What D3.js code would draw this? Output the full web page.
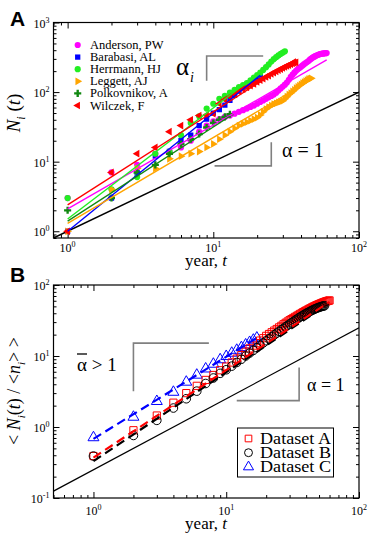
<!DOCTYPE html>
<html>
<head>
<meta charset="utf-8">
<script src="https://cdn.jsdelivr.net/npm/d3@7"></script>
<style>
body { margin: 0; background: #fff; }
svg { display: block; }
svg text { font-family: "Liberation Serif", "DejaVu Serif", serif; fill: #000; }
svg text.panel-letter { font-family: "Liberation Sans", Arial, sans-serif; font-weight: bold; font-size: 21px; }
</style>
</head>
<body>
<svg width="374" height="539" font-family="Liberation Serif, serif"></svg>
<script>
// ---- panel A: N_i(t) per author, value index = year-1 ----
const authors = ["Anderson, PW", "Barabasi, AL", "Herrmann, HJ", "Leggett, AJ", "Polkovnikov, A", "Wilczek, F"];
const anderson = [3,7,9,13,14,16,20,27,33,38,41,44,46,49,52,55,58,61,64,68,72,76,80,84,88,92,98,105,113,120,
  128,137,150,165,178,190,202,213,222,232,242,252,262,270,280,292,302,312,320,328,335,341,347,352,355,357,359,360,362,363];
const barabasi = [1,3,7,12,14,20,24,33,41,50,56,65,76,90,105,115,125,137,149,160,175];
const herrmann = [3,4,6,13,14,24,36,45,58,68,80,88,98,108,118,126,135,148,162,176,190,208,228,250,275,298,318,338,355,370,385];
const leggett = [1,4,8,8,11,12,13,14,16,18,21,24,27,30,33,35,37,39,41,43,47,52,57,61,64,67,69,71,73,75,
  80,86,92,97,102,108,114,119,124,129,134,139,144,149,153,156,158];
const polkovnikov = [2,3,7,9,13,18,21,25,31,36,40,44,48];
const wilczek = [1,7,13,16,27,33,40,46,47,49,68,78,86,94,102,110,117,124,131,140,148,156,165,173,182,190,198,206,214,222,
  230,238,245,252,258,263,268];
const seriesA = [anderson, barabasi, herrmann, leggett, polkovnikov, wilczek];
// power-law fits: value at t=1, last year, value at last year
const fitStartA = [2.1, 1.0, 1.5, 1.3, 1.4, 2.4];
const fitEndYearA = [60, 21, 31, 47, 13, 37];
const fitEndA = [290, 175, 360, 150, 45, 300];
const refLineA = [[0.8, 0.8], [100, 100]];
const guideAi = [[9, 145], [9, 330], [22, 330]];
const guideA1 = [[10.2, 8.7], [25, 8.7], [25, 19]];

// ---- panel B: <N_i(t)/<n_i>> ----
const datasets = ["Dataset A", "Dataset B", "Dataset C"];
const dsA = [0.39,0.9,1.45,2.2,3.0,3.8,4.6,5.4,6.3,7.1,8.1,9.2,10.3,11.5,12.8,14.0,15.2,16.5,17.8,19.2,
  20.4,21.6,22.8,24.0,25.3,26.6,28.0,29.3,30.6,31.9,33.1,34.3,35.5,36.7,37.9,39.1,40.3,41.5,42.6,43.7,
  44.8,45.9,47.0,48.1,49.1,50.1,51.1,52.0,52.9,53.8,54.6,55.4,56.2,57.0,57.7,58.4,59.0,59.6,60.1,60.6];
const dsB = [0.39,0.76,1.24,1.85,2.5,3.2,4.1,4.9,5.7,6.4,7.2,8.1,9.0,10.0,11.0,12.0,13.1,14.2,15.3,16.4,
  17.5,18.6,19.8,21.0,22.2,23.4,24.6,25.8,27.0,28.2,29.4,30.6,31.8,33.0,34.2,35.4,36.5,37.6,38.7,39.8,
  40.8,41.8,42.8,43.7,44.6,45.5,46.3,47.1,47.8,48.5,49.1,49.7,50.2,50.6,51.0];
const dsC = [0.71,1.38,2.3,3.1,4.3,5.4,6.6,7.7,8.9,9.9,11.0,12.1,13.2,14.4,15.6,16.8,18.0];
const seriesB = [dsA, dsB, dsC];
const fitStartB = [0.37, 0.33, 0.68];
const fitEndYearB = [60, 55, 17];
const fitEndB = [58, 50, 18];
const refLineB = [[0.5, 0.125], [100, 25]];
const guideBbar = [[2, 3.2], [2, 15.2], [7.4, 15.2]];
const guideB1 = [[12, 2.35], [35.4, 2.35], [35.4, 6.9]];

const svg = d3.select("svg");

function supLabel(sel, exp) {
  sel.append("tspan").text("10");
  sel.append("tspan").attr("dy", -5).attr("font-size", 8).text(exp);
}

function frame(box, x, y, xLabY) {
  const g = svg.append("g");
  const isMajor = v => Math.abs(Math.log10(v) - Math.round(Math.log10(v))) < 1e-9;
  const majors = s => s.ticks().filter(isMajor);
  const minors = s => s.ticks().filter(v => !isMajor(v));
  const axes = [
    [d3.axisBottom(x), `translate(0,${box.b})`],
    [d3.axisTop(x), `translate(0,${box.t})`],
    [d3.axisLeft(y), `translate(${box.l},0)`],
    [d3.axisRight(y), `translate(${box.r},0)`]
  ];
  axes.forEach(([ax, tr]) => {
    const s = ax.scale();
    g.append("g").attr("transform", tr)
      .call(ax.tickValues(majors(s)).tickSize(-6).tickSizeOuter(0).tickFormat(""))
      .call(a => a.select(".domain").remove());
    g.append("g").attr("transform", tr)
      .call(ax.tickValues(minors(s)).tickSize(-3).tickSizeOuter(0).tickFormat(""))
      .call(a => a.select(".domain").remove());
  });
  g.selectAll(".tick line").attr("stroke", "#000").attr("stroke-width", 1);
  g.append("rect").attr("x", box.l).attr("y", box.t).attr("width", box.r - box.l).attr("height", box.b - box.t)
    .attr("fill", "none").attr("stroke", "#000").attr("stroke-width", 1.2);
  majors(x).forEach(v => {
    g.append("text").attr("x", x(v)).attr("y", xLabY).attr("text-anchor", "middle").attr("font-size", 12)
      .call(t => supLabel(t, Math.round(Math.log10(v))));
  });
  majors(y).forEach(v => {
    g.append("text").attr("x", box.l - 4).attr("y", y(v) + 5).attr("text-anchor", "end").attr("font-size", 12)
      .call(t => supLabel(t, Math.round(Math.log10(v))));
  });
}

function guide(pts, x, y) {
  svg.append("path").attr("d", d3.line().x(d => x(d[0])).y(d => y(d[1]))(pts))
    .attr("fill", "none").attr("stroke", "#808080").attr("stroke-width", 1.6);
}

// ================= PANEL A =================
const boxA = { l: 53.5, r: 359, t: 22.5, b: 238 };
const xA = d3.scaleLog().domain([0.8, 100]).range([boxA.l, boxA.r]);
const yA = d3.scaleLog().domain([0.8, 1000]).range([boxA.b, boxA.t]);
const colA = ["#ff00ff", "#0000ff", "#22ee22", "#ffa500", "#118811", "#ff0000"];
const symA = [
  { type: d3.symbolCircle, size: 30, rot: 0 },
  { type: d3.symbolSquare, size: 28, rot: 0 },
  { type: d3.symbolCircle, size: 30, rot: 0 },
  { type: d3.symbolTriangle, size: 26, rot: 90 },
  { type: d3.symbolCross, size: 28, rot: 0 },
  { type: d3.symbolTriangle, size: 26, rot: -90 }
];

frame(boxA, xA, yA, 252);

svg.append("clipPath").attr("id", "clipA").append("rect")
  .attr("x", boxA.l).attr("y", boxA.t).attr("width", boxA.r - boxA.l).attr("height", boxA.b - boxA.t);
const plotA = svg.append("g").attr("clip-path", "url(#clipA)");

plotA.append("path").attr("d", d3.line().x(d => xA(d[0])).y(d => yA(d[1]))(refLineA))
  .attr("stroke", "#000").attr("stroke-width", 1.5).attr("fill", "none");

seriesA.forEach((vals, k) => {
  plotA.append("g").selectAll("path").data(vals).join("path")
    .attr("transform", (d, i) => `translate(${xA(i + 1)},${yA(d)}) rotate(${symA[k].rot})`)
    .attr("d", d3.symbol().type(symA[k].type).size(symA[k].size))
    .attr("fill", colA[k]);
});
seriesA.forEach((vals, k) => {
  plotA.append("path")
    .attr("d", d3.line().x(d => xA(d[0])).y(d => yA(d[1]))([[1, fitStartA[k]], [fitEndYearA[k], fitEndA[k]]]))
    .attr("stroke", colA[k]).attr("stroke-width", 1.4).attr("fill", "none");
});

guide(guideAi, xA, yA);
guide(guideA1, xA, yA);
svg.append("text").attr("x", 176).attr("y", 75).attr("font-size", 25).text("α")
  .append("tspan").attr("font-size", 14).attr("font-style", "italic").attr("dy", 7).attr("dx", 1).text("i");
svg.append("text").attr("x", 282).attr("y", 157).attr("font-size", 20).text("α = 1");

// legend A
const legA = svg.append("g");
authors.forEach((name, k) => {
  const cy = 45 + k * 12.1;
  legA.append("path").attr("transform", `translate(77.7,${cy}) rotate(${symA[k].rot})`)
    .attr("d", d3.symbol().type(symA[k].type).size(symA[k].size)).attr("fill", colA[k]);
  legA.append("text").attr("x", 90).attr("y", cy + 4).attr("font-size", 12.5).text(name);
});

// axis titles A
svg.append("text").attr("text-anchor", "middle").attr("x", 206).attr("y", 266).attr("font-size", 17)
  .call(t => { t.append("tspan").text("year, "); t.append("tspan").attr("font-style", "italic").text("t"); });
svg.append("text").attr("text-anchor", "middle").attr("transform", "translate(20,113) rotate(-90)").attr("font-size", 19)
  .call(t => {
    t.append("tspan").attr("font-style", "italic").text("N");
    t.append("tspan").attr("font-style", "italic").attr("font-size", 12).attr("dy", 5).text("i");
    t.append("tspan").attr("dy", -5).text(" (");
    t.append("tspan").attr("font-style", "italic").text("t");
    t.append("tspan").text(")");
  });
svg.append("text").attr("class", "panel-letter").attr("x", 10).attr("y", 26).text("A");

// ================= PANEL B =================
const boxB = { l: 53.5, r: 359, t: 285, b: 498 };
const xB = d3.scaleLog().domain([0.5, 100]).range([boxB.l, boxB.r]);
const yB = d3.scaleLog().domain([0.1, 100]).range([boxB.b, boxB.t]);
const colB = ["#ff0000", "#000000", "#0000ff"];
const symB = [
  { type: d3.symbolSquare, size: 52 },
  { type: d3.symbolCircle, size: 58 },
  { type: d3.symbolTriangle, size: 52 }
];

frame(boxB, xB, yB, 515);

svg.append("clipPath").attr("id", "clipB").append("rect")
  .attr("x", boxB.l).attr("y", boxB.t).attr("width", boxB.r - boxB.l).attr("height", boxB.b - boxB.t);
const plotB = svg.append("g").attr("clip-path", "url(#clipB)");

plotB.append("path").attr("d", d3.line().x(d => xB(d[0])).y(d => yB(d[1]))(refLineB))
  .attr("stroke", "#000").attr("stroke-width", 1.2).attr("fill", "none");

[2, 0, 1].forEach(k => {
  plotB.append("g").selectAll("path").data(seriesB[k]).join("path")
    .attr("transform", (d, i) => `translate(${xB(i + 1)},${yB(d)})`)
    .attr("d", d3.symbol().type(symB[k].type).size(symB[k].size))
    .attr("fill", "none").attr("stroke", colB[k]).attr("stroke-width", 1);
});
[1, 0, 2].forEach(k => {
  plotB.append("path")
    .attr("d", d3.line().x(d => xB(d[0])).y(d => yB(d[1]))([[1, fitStartB[k]], [fitEndYearB[k], fitEndB[k]]]))
    .attr("stroke", colB[k]).attr("stroke-width", 2.2).attr("stroke-dasharray", "9,5").attr("fill", "none");
});

guide(guideBbar, xB, yB);
guide(guideB1, xB, yB);
svg.append("text").attr("x", 77).attr("y", 371).attr("font-size", 19).text("α > 1");
svg.append("line").attr("x1", 77).attr("x2", 87).attr("y1", 354).attr("y2", 354).attr("stroke", "#000").attr("stroke-width", 1.3);
svg.append("text").attr("x", 307).attr("y", 391).attr("font-size", 18).text("α = 1");

// legend B
const legB = svg.append("g");
legB.append("rect").attr("x", 237.5).attr("y", 428).attr("width", 96).attr("height", 49)
  .attr("fill", "#fff").attr("stroke", "#000").attr("stroke-width", 1);
datasets.forEach((name, k) => {
  const cy = 438.5 + k * 14.2;
  legB.append("path").attr("transform", `translate(248.5,${cy})`)
    .attr("d", d3.symbol().type(symB[k].type).size(symB[k].size * 0.85))
    .attr("fill", "none").attr("stroke", colB[k]).attr("stroke-width", 1);
  legB.append("text").attr("x", 260).attr("y", cy + 5.5).attr("font-size", 16.5)
    .attr("textLength", 71).attr("lengthAdjust", "spacingAndGlyphs").text(name);
});

svg.append("text").attr("text-anchor", "middle").attr("x", 206).attr("y", 529).attr("font-size", 17)
  .call(t => { t.append("tspan").text("year, "); t.append("tspan").attr("font-style", "italic").text("t"); });
svg.append("text").attr("text-anchor", "middle").attr("transform", "translate(20,391) rotate(-90)").attr("font-size", 18)
  .call(t => {
    t.append("tspan").text("<  ");
    t.append("tspan").attr("font-style", "italic").text("N");
    t.append("tspan").attr("font-style", "italic").attr("font-size", 11).attr("dy", 5).text("i");
    t.append("tspan").attr("dy", -5).text("(");
    t.append("tspan").attr("font-style", "italic").text("t");
    t.append("tspan").text(") / <");
    t.append("tspan").attr("font-style", "italic").text("n");
    t.append("tspan").attr("font-style", "italic").attr("font-size", 11).attr("dy", 5).text("i");
    t.append("tspan").attr("dy", -5).text(">  >");
  });
svg.append("text").attr("class", "panel-letter").attr("x", 10).attr("y", 282).text("B");
</script>
</body>
</html>
